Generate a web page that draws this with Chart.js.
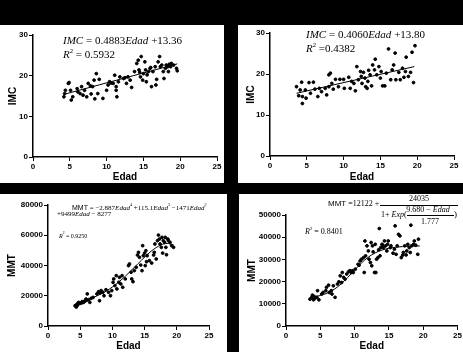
<!DOCTYPE html>
<html>
<head>
<meta charset="utf-8">
<script src="https://cdn.jsdelivr.net/npm/chart.js@4.4.1/dist/chart.umd.min.js"></script>
<style>
body{margin:0;background:#000;width:463px;height:352px;overflow:hidden;position:relative;font-family:"Liberation Sans",Arial,sans-serif}
.panel{position:absolute;background:#fff;overflow:hidden}
.panel canvas{position:absolute;left:0;top:0}
.eq{position:absolute;font-family:"Liberation Serif","Times New Roman",serif;white-space:nowrap;color:#000;line-height:1}
.eq i{font-style:italic}
.eq .sans{font-family:"Liberation Sans",Arial,sans-serif}
.eq sup{font-size:60%;vertical-align:top;position:relative;top:-1px}
.bar{position:absolute;border-top:1px solid #000;height:0}
.mid{transform:translateX(-50%)}
</style>
</head>
<body>

<div class="panel" id="pA" style="left:0;top:25px;width:224px;height:158px">
  <canvas id="cA" width="224" height="158"></canvas>
  <div class="eq" style="left:63px;top:10px;font-size:11px"><i>IMC</i> = 0.4883<i>Edad</i> +13.36</div>
  <div class="eq" style="left:63px;top:24px;font-size:11px"><i>R</i><sup>2</sup> = 0.5932</div>
</div>

<div class="panel" id="pB" style="left:238px;top:25px;width:225px;height:158px">
  <canvas id="cB" width="225" height="158"></canvas>
  <div class="eq" style="left:68px;top:4px;font-size:11px"><i>IMC</i> = 0.4060<i>Edad</i> +13.80</div>
  <div class="eq" style="left:68px;top:18px;font-size:11px"><i>R</i><sup>2</sup> =0.4382</div>
</div>

<div class="panel" id="pC" style="left:0;top:194px;width:227px;height:158px">
  <canvas id="cC" width="227" height="158"></canvas>
  <div class="eq" style="left:72px;top:10px;font-size:7px"><span class="sans">MMT</span> = &minus;2.887<i>Edad</i><sup>4</sup> +115.1<i>Edad</i><sup>3</sup> &minus;1471<i>Edad</i><sup>2</sup></div>
  <div class="eq" style="left:57px;top:17px;font-size:7px">+9499<i>Edad</i> &minus; 8277</div>
  <div class="eq" style="left:59px;top:39px;font-size:6px"><i>R</i><sup>2</sup> = 0.9250</div>
</div>

<div class="panel" id="pD" style="left:239px;top:194px;width:224px;height:158px">
  <canvas id="cD" width="224" height="158"></canvas>
  <div class="eq" style="left:89px;top:6px;font-size:8px"><span class="sans">MMT</span> =12122 +</div>
  <div class="eq mid" style="left:180px;top:1px;font-size:8px">24035</div>
  <div class="bar" style="left:141px;top:11px;width:78px"></div>
  <div class="eq" style="left:142px;top:17px;font-size:8px">1+ <i>Exp</i>(</div>
  <div class="eq mid" style="left:189px;top:12px;font-size:8px">9.680 &minus; <i>Edad</i></div>
  <div class="bar" style="left:168px;top:21px;width:47px"></div>
  <div class="eq mid" style="left:191px;top:24px;font-size:8px">1.777</div>
  <div class="eq" style="left:215px;top:16px;font-size:9px">)</div>
  <div class="eq" style="left:66px;top:34px;font-size:8px"><i>R</i><sup>2</sup> = 0.8401</div>
</div>

<script>
// panel a: IMC vs Edad (linear)
const ageA = [4.2,4.3,4.4,4.8,4.9,5.1,5.2,5.4,6.0,6.1,6.4,6.6,6.8,7.0,7.3,7.5,7.8,8.1,8.3,8.4,
  8.6,8.8,9.0,9.5,10.0,10.2,10.4,10.9,11.1,11.3,11.3,11.4,11.6,11.8,12.3,12.7,12.9,13.2,13.4,13.8,
  14.1,14.3,14.4,14.6,14.7,14.9,15.0,15.2,15.3,15.4,15.7,15.9,16.1,16.3,16.6,16.7,16.8,17.0,17.2,17.3,
  17.5,17.7,17.8,18.0,18.1,18.4,18.5,18.7,18.8,19.1,19.5,19.6,14.5,15.5,16.0,18.3,12.5,10.6,7.9];
const imcA = [14.8,15.6,16.4,18.1,18.3,16.4,14.0,14.8,16.8,16.0,15.6,17.3,15.2,16.4,14.8,18.1,17.5,17.3,18.9,14.3,
  20.5,15.6,19.1,14.4,16.4,17.7,18.5,18.1,20.1,17.3,16.4,14.8,18.5,19.7,19.3,18.1,19.7,18.9,17.1,21.0,
  23.0,23.8,21.4,19.7,24.7,18.9,20.5,23.4,21.4,18.5,21.0,21.8,17.3,21.0,22.2,17.7,19.1,23.4,24.7,22.2,
  22.6,21.0,19.3,21.8,22.6,21.0,22.8,22.2,23.0,22.6,21.8,21.2,20.8,20.2,22.0,22.2,19.5,18.2,15.5];
const fitAgeA = [4.2, 19.6];
const fitImcA = [15.4, 22.9];

// panel b: IMC vs Edad (linear)
const ageB = [3.6,3.9,4.1,4.3,4.4,4.4,4.8,4.9,5.3,5.5,5.9,6.1,6.5,6.7,7.0,7.5,7.7,8.0,8.0,8.2,
  8.4,8.6,8.9,9.3,9.5,10.0,10.1,10.7,10.9,11.1,11.4,11.6,11.8,12.0,12.3,12.4,12.5,12.7,12.9,13.0,
  13.2,13.3,13.4,13.6,13.8,13.95,14.2,14.3,14.5,14.8,15.0,15.1,15.3,15.6,15.8,16.1,16.4,16.6,16.8,17.0,
  17.1,17.5,17.7,18.0,18.2,18.4,18.5,18.8,19.1,19.3,19.5,19.7];
const imcB = [16.9,14.7,16.1,18.0,14.5,12.8,16.1,14.1,17.9,15.3,18.0,16.3,14.5,16.5,15.7,16.5,14.9,19.8,16.9,20.2,
  17.7,16.3,18.7,16.9,18.7,18.7,16.5,19.2,16.5,18.2,17.7,15.9,21.8,18.6,20.6,19.4,17.7,20.4,19.0,16.9,
  16.5,18.2,20.9,19.8,17.1,22.2,21.0,23.6,19.8,21.8,19.0,20.6,17.1,17.1,20.2,26.1,18.6,21.0,22.2,25.1,
  18.6,20.4,18.6,21.4,19.2,20.6,24.1,19.4,20.4,25.3,17.9,26.9];
const fitAgeB = [3.6, 19.6];
const fitImcB = [15.3, 21.8];

// panel c: MMT vs Edad (polynomial)
const ageC = [4.2,4.5,4.75,5.0,5.3,5.5,5.8,5.9,6.1,6.3,6.5,6.7,7.0,7.6,7.85,8.0,8.1,8.25,8.5,8.7,
  9.0,9.4,9.7,9.9,10.1,10.2,10.4,10.6,10.7,11.0,11.1,11.3,11.5,11.6,12.0,12.5,12.65,12.9,13.0,13.2,
  13.4,13.7,13.9,14.05,14.2,14.4,14.6,14.7,14.8,15.0,15.1,15.2,15.3,15.4,15.75,16.1,16.4,16.5,16.6,16.8,
  17.0,17.15,17.3,17.4,17.6,17.7,17.8,17.9,18.1,18.2,18.3,18.4,18.6,18.7,18.95,19.2,19.5,
  4.4,4.6,5.2,5.6,6.0];
const mmtC = [13400,14500,15600,15000,16100,15600,16700,17800,21200,17400,15600,18300,18900,21200,22700,16700,21800,23400,22300,20000,
  24000,22300,20000,23400,28900,31100,26700,33300,24500,28900,32200,27800,33300,25600,31100,39900,41000,35500,31100,29300,
  36600,38800,46900,48700,45400,40300,36600,53100,46500,48200,39900,49800,42500,46500,43200,41600,46900,48700,54200,44300,
  56400,60100,57500,54200,52000,58600,48200,56400,55300,58600,52000,47100,57500,56400,55300,53100,52000,
  12500,13800,15200,16200,17000];
const fitAgeC = [4.3, 6, 8, 10, 12, 14, 16, 17.5, 18.5, 19.5];
const fitMmtC = [13500, 16900, 20700, 25800, 32900, 41300, 49400, 53500, 54600, 53600];

// panel d: MMT vs Edad (logistic)
const ageD = [3.5,3.75,3.85,4.0,4.1,4.2,4.5,4.6,4.8,5.2,5.4,5.8,5.9,6.2,6.3,6.6,6.7,6.9,7.15,7.5,
  7.7,7.9,8.1,8.2,8.4,8.6,8.85,9.1,9.3,9.5,9.7,9.8,10.1,10.5,10.65,10.8,11.0,11.3,11.4,11.5,
  11.6,11.8,12.0,12.1,12.3,12.4,12.5,12.6,12.7,12.9,13.0,13.1,13.2,13.4,13.5,13.6,13.7,13.8,14.0,14.05,
  14.2,14.35,14.5,14.7,14.8,14.9,15.2,15.3,15.6,15.8,15.9,16.05,16.2,16.4,16.6,16.8,17.0,17.1,17.3,17.5,
  17.6,17.75,17.95,18.1,18.2,18.3,18.6,18.7,18.9,19.2,19.3];
const mmtD = [12100,12900,13900,11800,13300,12400,12900,15900,11800,14400,15100,15900,17400,18400,15100,15900,14400,18100,12900,18900,
  19900,22600,19600,24100,21900,21100,23400,24400,24900,24100,24900,24100,25600,27800,27400,29300,30100,30800,24100,38300,
  31600,36100,33800,30100,28600,37600,27100,36100,33400,24100,36800,24100,30100,30800,34300,43900,31600,35300,36800,36400,
  35300,38300,36100,33800,36800,38300,35300,36100,32800,34600,45100,32300,36100,41300,40600,30800,31900,33100,36100,32000,
  33800,36800,35300,33100,45400,36100,36800,38300,36400,32300,39100];
const fitAgeD = [3.5, 5, 6, 7, 8, 9, 10, 11, 12, 13, 14, 15, 16, 17, 18, 19.5];
const fitMmtD = [12840, 13740, 14810, 16480, 18850, 21870, 25220, 28410, 31030, 32940, 34220, 35010, 35490, 35770, 35940, 36060];

const xTicks = [0, 5, 10, 15, 20, 25];

function toPoints(xs, ys) {
  return xs.map((x, i) => ({x: x, y: ys[i]}));
}

function makeChart(id, xs, ys, fitX, fitY, yMax, yStep, yTitle, box) {
  const tickFont = {family: "'Liberation Sans', Arial, sans-serif", size: 8, weight: 'bold'};
  const titleFont = {family: "'Liberation Sans', Arial, sans-serif", size: 10, weight: 'bold'};
  new Chart(document.getElementById(id), {
    type: 'scatter',
    data: {
      datasets: [
        {
          data: toPoints(xs, ys),
          backgroundColor: '#000',
          borderColor: '#000',
          pointRadius: 1.4,
          pointHoverRadius: 1.4
        },
        {
          data: toPoints(fitX, fitY),
          showLine: true,
          borderColor: '#000',
          borderWidth: 1,
          pointRadius: 0,
          cubicInterpolationMode: 'monotone'
        }
      ]
    },
    options: {
      responsive: false,
      animation: false,
      events: [],
      layout: {padding: {left: 0, top: box.top, right: box.right, bottom: 0}},
      plugins: {legend: {display: false}, tooltip: {enabled: false}},
      scales: {
        x: {
          type: 'linear', min: 0, max: 25,
          afterBuildTicks: s => { s.ticks = xTicks.map(v => ({value: v})); },
          afterFit: s => { s.height = box.xh; },
          grid: {drawOnChartArea: false, color: '#000', tickLength: 4, lineWidth: 1},
          border: {color: '#000', width: 1.5},
          ticks: {color: '#000', font: tickFont, padding: 1, maxRotation: 0, callback: v => String(v)},
          title: {display: true, text: 'Edad', color: '#000', font: titleFont, padding: {top: 0, bottom: box.xtp}}
        },
        y: {
          type: 'linear', min: 0, max: yMax,
          ticks: {stepSize: yStep, color: '#000', font: tickFont, padding: 1, callback: v => String(v)},
          afterFit: s => { s.width = box.yw; },
          grid: {drawOnChartArea: false, color: '#000', tickLength: 4, lineWidth: 1},
          border: {color: '#000', width: 1.5},
          title: {display: true, text: yTitle, color: '#000', font: titleFont, padding: {top: box.ytp, bottom: 0}}
        }
      }
    }
  });
}

makeChart('cA', ageA, imcA, fitAgeA, fitImcA, 30, 10, 'IMC', {yw: 33, xh: 26, top: 10, right: 7, xtp: 0, ytp: 7});
makeChart('cB', ageB, imcB, fitAgeB, fitImcB, 30, 10, 'IMC', {yw: 32, xh: 27, top: 8, right: 9, xtp: 0, ytp: 7});
makeChart('cC', ageC, mmtC, fitAgeC, fitMmtC, 80000, 20000, 'MMT', {yw: 48, xh: 26, top: 11, right: 18, xtp: 0, ytp: 6});
makeChart('cD', ageD, mmtD, fitAgeD, fitMmtD, 50000, 10000, 'MMT', {yw: 47, xh: 26, top: 21, right: 5, xtp: 0, ytp: 7});
</script>
</body>
</html>
